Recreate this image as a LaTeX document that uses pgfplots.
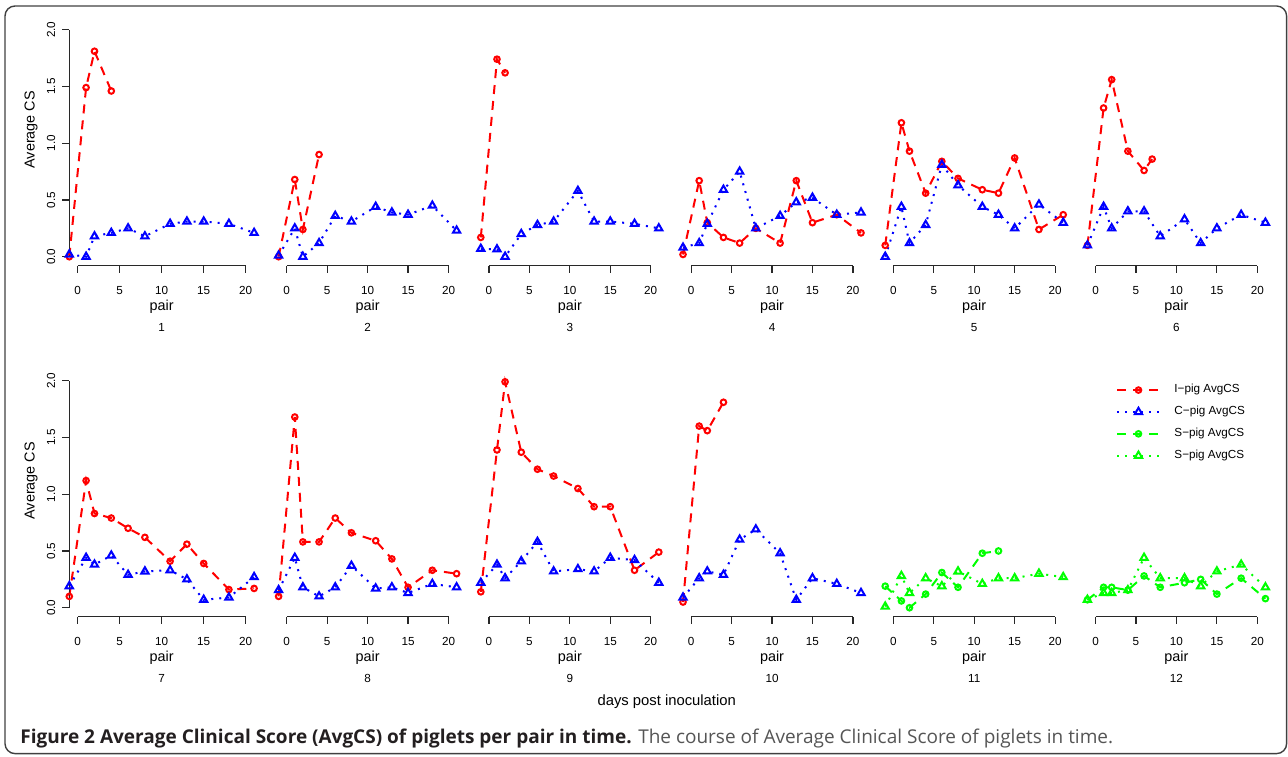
\documentclass[border=0pt]{standalone}
\usepackage{fontspec}
\setmainfont{Liberation Sans}
\newfontfamily\capfont{Open Sans}
\usepackage{pgfplots}
\pgfplotsset{compat=1.18}
\definecolor{rred}{RGB}{255,0,0}
\definecolor{rblue}{RGB}{0,0,255}
\definecolor{rgreen}{RGB}{0,255,0}
\definecolor{axgray}{RGB}{40,40,40}
\definecolor{capgray}{RGB}{85,85,85}
\definecolor{capblack}{RGB}{35,31,32}

\pgfplotsset{
  panel/.style={
    scale only axis, height=122.6pt, width=89pt,
    xmin=-1, xmax=21, ymin=-0.08, ymax=2.08,
    clip=false, anchor=south west,
    axis line style={draw=none},
    xtick={0,5,...,20}, ytick=\empty,
    tick align=outside, major tick length=3.5pt,
    tick style={axgray, line width=0.6pt},
    tick pos=left,
    ticklabel style={font=\fontsize{5.85}{6}\selectfont},
    xticklabel style={yshift=-3.4pt},
    /pgf/number format/assume math mode=true,
    xlabel={pair},
    xlabel style={at={(axis description cs:0.5,-0.166)}, anchor=center, font=\fontsize{7.2}{8}\selectfont},
    title style={at={(axis description cs:0.5,-0.30)}, anchor=center, yshift=0pt, font=\fontsize{5.85}{6}\selectfont},
  },
  firstcol/.style={
    width=92.4pt,
    ytick={0,0.5,...,2},
    yticklabel style={rotate=90, anchor=south, /pgf/number format/.cd, fixed, fixed zerofill, precision=1},
    ylabel={Average CS},
    ylabel style={at={(axis description cs:-0.207,0.555)}, anchor=center, font=\fontsize{7.2}{8}\selectfont},
  },
  ipig/.style={rred, line width=1pt, dash pattern=on 4.5pt off 3.5pt, mark=o, mark size=1.4pt, mark options={solid, line width=1pt}},
  cpig/.style={rblue, line width=1pt, dash pattern=on 1pt off 3pt, mark=triangle, mark size=2.1pt, mark options={solid, line width=1pt}},
  spigc/.style={rgreen, line width=1pt, dash pattern=on 4.5pt off 3.5pt, mark=o, mark size=1.4pt, mark options={solid, line width=1pt}},
  spigt/.style={rgreen, line width=1pt, dash pattern=on 1pt off 3pt, mark=triangle, mark size=2.1pt, mark options={solid, line width=1pt}},
}
\newcommand{\xaxisline}{\draw[axgray, line width=0.6pt] (axis cs:0,-0.08) -- (axis cs:20,-0.08);}
\newcommand{\yaxisline}{\draw[axgray, line width=0.6pt] (axis cs:-1,0) -- (axis cs:-1,2);}

\begin{document}
\begin{tikzpicture}
\path[use as bounding box] (0,0) rectangle (644pt,378pt);
\draw[black!75, line width=0.7pt, rounded corners=5pt] (2.5pt,375pt) rectangle (643.3pt,1.2pt);

% ---- top row ----
\begin{axis}[panel, firstcol, at={(34.65pt,245.1pt)}, title={1}]
\addplot[ipig] coordinates {(-1,0.0)(1,1.49)(2,1.81)(4,1.46)};
\addplot[cpig] coordinates {(-1,0.02)(1,0.0)(2,0.18)(4,0.21)(6,0.25)(8,0.18)(11,0.29)(13,0.31)(15,0.31)(18,0.29)(21,0.21)};
\xaxisline \yaxisline
\end{axis}

\begin{axis}[panel, at={(139.3pt,245.1pt)}, title={2}]
\addplot[ipig] coordinates {(-1,0.0)(1,0.68)(2,0.24)(4,0.90)};
\addplot[cpig] coordinates {(-1,0.01)(1,0.25)(2,0.0)(4,0.12)(6,0.36)(8,0.31)(11,0.44)(13,0.39)(15,0.37)(18,0.45)(21,0.23)};
\xaxisline
\end{axis}

\begin{axis}[panel, at={(240.4pt,245.1pt)}, title={3}]
\addplot[ipig] coordinates {(-1,0.17)(1,1.74)(2,1.62)};
\addplot[cpig] coordinates {(-1,0.07)(1,0.065)(2,0.0)(4,0.20)(6,0.28)(8,0.31)(11,0.58)(13,0.31)(15,0.31)(18,0.29)(21,0.25)};
\xaxisline
\end{axis}

\begin{axis}[panel, at={(341.5pt,245.1pt)}, title={4}]
\addplot[ipig] coordinates {(-1,0.02)(1,0.67)(2,0.30)(4,0.17)(6,0.12)(8,0.25)(11,0.12)(13,0.67)(15,0.30)(18,0.37)(21,0.21)};
\addplot[cpig] coordinates {(-1,0.08)(1,0.12)(2,0.29)(4,0.59)(6,0.75)(8,0.25)(11,0.36)(13,0.48)(15,0.52)(18,0.37)(21,0.39)};
\xaxisline
\end{axis}

\begin{axis}[panel, at={(442.6pt,245.1pt)}, title={5}]
\addplot[ipig] coordinates {(-1,0.10)(1,1.18)(2,0.93)(4,0.56)(6,0.84)(8,0.69)(11,0.59)(13,0.56)(15,0.87)(18,0.24)(21,0.37)};
\addplot[cpig] coordinates {(-1,0.0)(1,0.44)(2,0.12)(4,0.28)(6,0.81)(8,0.63)(11,0.44)(13,0.37)(15,0.25)(18,0.46)(21,0.30)};
\xaxisline
\end{axis}

\begin{axis}[panel, at={(543.7pt,245.1pt)}, title={6}]
\addplot[ipig] coordinates {(-1,0.10)(1,1.31)(2,1.56)(4,0.93)(6,0.76)(7,0.86)};
\addplot[cpig] coordinates {(-1,0.10)(1,0.44)(2,0.25)(4,0.40)(6,0.40)(8,0.18)(11,0.33)(13,0.12)(15,0.25)(18,0.37)(21,0.30)};
\xaxisline
\end{axis}

% ---- bottom row ----
\begin{axis}[panel, firstcol, at={(34.65pt,69.6pt)}, title={7}]
\addplot[ipig] coordinates {(-1,0.10)(1,1.12)(2,0.83)(4,0.79)(6,0.70)(8,0.62)(11,0.41)(13,0.56)(15,0.39)(18,0.16)(21,0.17)};
\addplot[cpig] coordinates {(-1,0.19)(1,0.44)(2,0.38)(4,0.46)(6,0.29)(8,0.32)(11,0.33)(13,0.25)(15,0.07)(18,0.09)(21,0.27)};
\xaxisline \yaxisline
\end{axis}

\begin{axis}[panel, at={(139.3pt,69.6pt)}, title={8}]
\addplot[ipig] coordinates {(-1,0.10)(1,1.68)(2,0.58)(4,0.58)(6,0.79)(8,0.66)(11,0.59)(13,0.43)(15,0.18)(18,0.33)(21,0.30)};
\addplot[cpig] coordinates {(-1,0.155)(1,0.44)(2,0.18)(4,0.10)(6,0.18)(8,0.37)(11,0.17)(13,0.18)(15,0.13)(18,0.21)(21,0.18)};
\xaxisline
\end{axis}

\begin{axis}[panel, at={(240.4pt,69.6pt)}, title={9}]
\addplot[ipig] coordinates {(-1,0.14)(1,1.39)(2,1.99)(4,1.37)(6,1.22)(8,1.16)(11,1.05)(13,0.89)(15,0.89)(18,0.33)(21,0.49)};
\addplot[cpig] coordinates {(-1,0.22)(1,0.38)(2,0.26)(4,0.41)(6,0.58)(8,0.32)(11,0.34)(13,0.32)(15,0.44)(18,0.42)(21,0.22)};
\xaxisline
\end{axis}

\begin{axis}[panel, at={(341.5pt,69.6pt)}, title={10}]
\addplot[ipig] coordinates {(-1,0.05)(1,1.60)(2,1.56)(4,1.81)};
\addplot[cpig] coordinates {(-1,0.09)(1,0.26)(2,0.32)(4,0.29)(6,0.60)(8,0.69)(11,0.48)(13,0.07)(15,0.26)(18,0.21)(21,0.13)};
\xaxisline
\end{axis}

\begin{axis}[panel, at={(442.6pt,69.6pt)}, title={11}]
\addplot[spigc] coordinates {(-1,0.19)(1,0.06)(2,0.0)(4,0.12)(6,0.31)(8,0.18)(11,0.48)(13,0.50)};
\addplot[spigt] coordinates {(-1,0.01)(1,0.28)(2,0.13)(4,0.26)(6,0.19)(8,0.32)(11,0.21)(13,0.26)(15,0.26)(18,0.30)(21,0.27)};
\xaxisline
\end{axis}

\begin{axis}[panel, at={(543.7pt,69.6pt)}, title={12},
  legend image code/.code={\draw[mark repeat=2, mark phase=2, #1] plot coordinates {(0pt,0pt) (10.5pt,0pt) (21pt,0pt)};},
  legend cell align=left,
  legend style={draw=none, fill=none, at={(0.161,0.966)}, anchor=north west, inner sep=0pt,
    font=\fontsize{5.85}{6}\selectfont, row sep=1.2pt,
    /tikz/every odd column/.append style={column sep=5pt}}]
\addlegendimage{ipig}\addlegendentry{I−pig AvgCS}
\addlegendimage{cpig}\addlegendentry{C−pig AvgCS}
\addlegendimage{spigc}\addlegendentry{S−pig AvgCS}
\addlegendimage{spigt}\addlegendentry{S−pig AvgCS}
\addplot[spigc, forget plot] coordinates {(-1,0.07)(1,0.18)(2,0.18)(4,0.155)(6,0.28)(8,0.18)(11,0.22)(13,0.25)(15,0.12)(18,0.26)(21,0.08)};
\addplot[spigt, forget plot] coordinates {(-1,0.07)(1,0.13)(2,0.13)(4,0.155)(6,0.44)(8,0.26)(11,0.26)(13,0.19)(15,0.32)(18,0.38)(21,0.18)};
\xaxisline
\end{axis}

\node[font=\fontsize{7.4}{8}\selectfont] at (333.35pt,27.15pt) {days post inoculation};
\node[anchor=base west, inner sep=0pt, font=\capfont\fontsize{9.5}{10}\selectfont] at (10pt,6.2pt)
  {\textcolor{capblack}{\textbf{Figure 2 Average Clinical Score (AvgCS) of piglets per pair in time.}} \textcolor{capgray}{The course of Average Clinical Score of piglets in time.}};
\end{tikzpicture}
\end{document}
